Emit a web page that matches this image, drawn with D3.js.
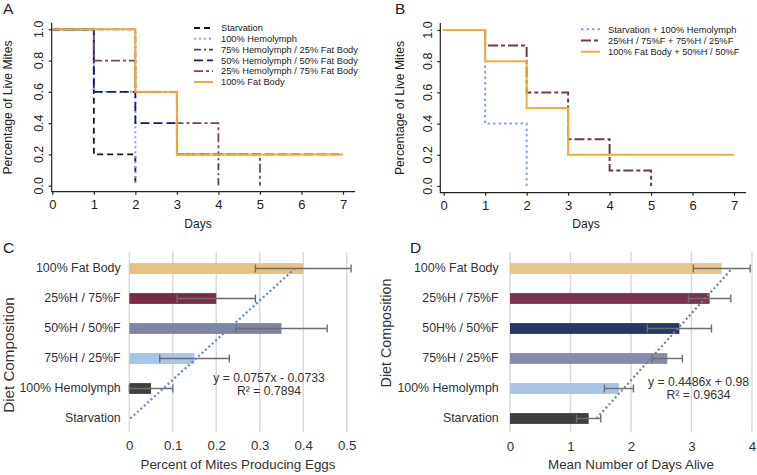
<!DOCTYPE html>
<html><head><meta charset="utf-8">
<script src="https://cdn.jsdelivr.net/npm/d3@7"></script>
<style>
html,body{margin:0;padding:0;background:#fff;}
svg{display:block;font-family:"Liberation Sans",Arial,sans-serif;}
</style></head>
<body>
<svg id="c" width="757" height="475"></svg>
<script>
// ---------- DATA ----------
// Panel A: Kaplan-Meier survival, value at each day starting day 0
const dayTicks = [0,1,2,3,4,5,6,7];
const yTicksSurv = [0,0.2,0.4,0.6,0.8,1.0];
const survStarvation = [1, 0.2, 0];
const survHemo100 = [1, 0.6, 0];
const survH75F25 = [1, 1, 0.6, 0.2, 0];
const survH50F50 = [1, 0.6, 0.4, 0.2, 0.2, 0.2, 0.2, 0.2];
const survH25F75 = [1, 0.8, 0.6, 0.4, 0.2, 0];
const survFat100 = [1, 1, 0.6, 0.2, 0.2, 0.2, 0.2, 0.2];
const legendA = ["Starvation","100% Hemolymph","75% Hemolymph / 25% Fat Body","50% Hemolymph / 50% Fat Body","25% Hemolymph / 75% Fat Body","100% Fat Body"];
// Panel B: combined curves
const survStarvHemo = [1, 0.4, 0];
const survH25H75 = [1, 0.9, 0.6, 0.3, 0.1, 0];
const survFatH50 = [1, 0.8, 0.5, 0.2, 0.2, 0.2, 0.2, 0.2];
const legendB = ["Starvation + 100% Hemolymph","25%H / 75%F + 75%H / 25%F","100% Fat Body + 50%H / 50%F"];
// Panel C
const dietC = ["100% Fat Body","25%H / 75%F","50%H / 50%F","75%H / 25%F","100% Hemolymph","Starvation"];
const eggsValue = [0.40, 0.20, 0.35, 0.15, 0.05, 0];
const eggsErr = [0.11, 0.09, 0.105, 0.08, 0.05, 0];
const eggsTicks = [0,0.1,0.2,0.3,0.4,0.5];
const eggsFit = [0.0757, -0.0733]; // slope, intercept (x = 1..6 from Starvation)
// Panel D
const dietD = ["100% Fat Body","25%H / 75%F","50H% / 50%F","75%H / 25%F","100% Hemolymph","Starvation"];
const aliveValue = [3.5, 3.3, 2.8, 2.6, 1.8, 1.3];
const aliveErr = [0.47, 0.35, 0.53, 0.25, 0.24, 0.2];
const aliveTicks = [0,1,2,3,4];
const aliveFit = [0.4486, 0.98];

// ---------- STYLES ----------
const stylesA = [
  {c:"#161616", d:"6,4", w:1.8},
  {c:"#7fa5e6", d:"2,3", w:2},
  {c:"#3e4c4c", d:"7,3,2,3", w:1.8},
  {c:"#16187c", d:"9,4", w:1.8},
  {c:"#7b4558", d:"9,3,3,3", w:1.8},
  {c:"#f3aa38", d:null, w:2}
];
const stylesB = [
  {c:"#7fa5e6", d:"2.5,3", w:2},
  {c:"#6f3a4f", d:"10,3,4,3", w:2},
  {c:"#f3aa38", d:null, w:2}
];
const colorsC = ["#e8c17f","#7a2c46","#7e85a7","#a8c4e8","#404040","#404040"];
const colorsD = ["#e9c587","#7b3351","#263865","#878cac","#a7c3e7","#3f3f3f"];

const svg = d3.select("#c");
svg.append("rect").attr("width",757).attr("height",475).attr("fill","#fff");

function panelLabel(t,x,y){
  svg.append("text").attr("x",x).attr("y",y).attr("font-size",15.5).attr("fill","#222").text(t);
}

// ---------- SURVIVAL PANELS ----------
function survPanel(o){
  const g = svg.append("g");
  const x = d3.scaleLinear().domain([0,7]).range(o.xr);
  const y = d3.scaleLinear().domain([0,1]).range(o.yr);
  // L frame
  g.append("path").attr("d",`M${o.ax},${o.top}V${o.bot}H${o.right}`).attr("fill","none").attr("stroke","#222").attr("stroke-width",1.2);
  // x ticks
  const xa = d3.axisBottom(x).tickValues(dayTicks).tickSize(3).tickPadding(5).tickFormat(d3.format("d"));
  const gx = g.append("g").attr("transform",`translate(0,${o.bot})`).call(xa);
  gx.select(".domain").remove();
  gx.selectAll("line").attr("stroke","#222").attr("stroke-width",1.2);
  gx.selectAll("text").attr("font-size",13).attr("fill","#222").attr("font-family","Liberation Sans, Arial");
  // y ticks
  const ya = d3.axisLeft(y).tickValues(yTicksSurv).tickSize(3).tickFormat(d3.format(".1f"));
  const gy = g.append("g").attr("transform",`translate(${o.ax},0)`).call(ya);
  gy.select(".domain").remove();
  gy.selectAll("line").attr("stroke","#222").attr("stroke-width",1.2);
  gy.selectAll("text").remove();
  yTicksSurv.forEach(v=>{
    g.append("text").attr("transform",`translate(${o.ax-13},${y(v)}) rotate(-90)`)
      .attr("text-anchor","middle").attr("dy","0.35em").attr("font-size",12.5).attr("fill","#222")
      .text(d3.format(".1f")(v));
  });
  // titles
  g.append("text").attr("transform",`translate(${o.ytx},${(o.yr[0]+o.yr[1])/2}) rotate(-90)`)
    .attr("text-anchor","middle").attr("font-size",12.2).attr("fill","#222").text("Percentage of  Live Mites");
  g.append("text").attr("x",o.xtx).attr("y",228).attr("text-anchor","middle").attr("font-size",12).attr("fill","#222").text("Days");
  // curves
  const line = d3.line().x(d=>x(d[0])).y(d=>y(d[1])).curve(d3.curveStepAfter);
  o.series.forEach((s,i)=>{
    const st = o.styles[i];
    g.append("path").datum(s.map((v,k)=>[k,v])).attr("d",line)
      .attr("fill","none").attr("stroke",st.c).attr("stroke-width",st.w)
      .attr("stroke-dasharray",st.d);
  });
  // legend
  o.legend.forEach((t,i)=>{
    const st = o.styles[i];
    const ly = o.ly0 + i*o.ldy;
    g.append("line").attr("x1",o.lx).attr("x2",o.lx+19).attr("y1",ly).attr("y2",ly)
      .attr("stroke",st.c).attr("stroke-width",st.w).attr("stroke-dasharray",st.d);
    g.append("text").attr("x",o.lx+27).attr("y",ly).attr("dy","0.35em").attr("font-size",9.3).attr("fill","#222").text(t);
  });
}

survPanel({xr:[52.3,343], yr:[185.7,29.3], ax:51.7, top:22.7, bot:191.7, right:355,
  ytx:12, xtx:198,
  series:[survStarvation,survHemo100,survH75F25,survH50F50,survH25F75,survFat100],
  styles:stylesA, legend:legendA, lx:194, ly0:28, ldy:10.8});
survPanel({xr:[443.7,734], yr:[186,30], ax:440.3, top:23, bot:192.7, right:746,
  ytx:404, xtx:586,
  series:[survStarvHemo,survH25H75,survFatH50],
  styles:stylesB, legend:legendB, lx:581, ly0:29.3, ldy:11.2});

panelLabel("A",3,14);
panelLabel("B",395,14);
panelLabel("C",3,253);
panelLabel("D",410,253);

// ---------- BAR PANELS ----------
function barPanel(o){
  const g = svg.append("g");
  const x = d3.scaleLinear().domain(o.dom).range(o.xr);
  const y = d3.scaleBand().domain(o.cats).range([253.5,433.5]).paddingInner(0.64).paddingOuter(0.32);
  // gridlines
  g.selectAll("line.grid").data(o.ticks).enter().append("line")
    .attr("x1",d=>x(d)).attr("x2",d=>x(d)).attr("y1",251.7).attr("y2",431.7)
    .attr("stroke","#d9d9d9").attr("stroke-width",1.5);
  // tick labels
  const xa = d3.axisBottom(x).tickValues(o.ticks).tickSize(0).tickPadding(0).tickFormat(o.fmt);
  const gx = g.append("g").attr("transform",`translate(0,${o.tickY})`).call(xa);
  gx.select(".domain").remove();
  gx.selectAll("text").attr("font-size",13.3).attr("fill","#333").attr("dy",0).attr("font-family","Liberation Sans, Arial");
  // category labels
  const ya = d3.axisLeft(y).tickSize(0).tickPadding(0);
  const gy = g.append("g").attr("transform",`translate(${o.catX},0)`).call(ya);
  gy.select(".domain").remove();
  gy.selectAll("text").attr("font-size",12.4).attr("fill","#333").attr("font-family","Liberation Sans, Arial");
  // bars
  g.selectAll("rect.bar").data(o.values).enter().append("rect")
    .attr("x",x(0)).attr("y",(d,i)=>y(o.cats[i])).attr("height",y.bandwidth())
    .attr("width",d=>x(d)-x(0)).attr("fill",(d,i)=>o.colors[i]);
  // error bars
  o.values.forEach((v,i)=>{
    const e = o.err[i]; if(!e) return;
    const cy = y(o.cats[i]) + y.bandwidth()/2;
    const x1 = x(Math.max(o.dom[0], v-e)), x2 = x(v+e);
    g.append("line").attr("x1",x1).attr("x2",x2).attr("y1",cy).attr("y2",cy).attr("stroke","#6e6e6e").attr("stroke-width",1.4);
    [x1,x2].forEach(xx=>g.append("line").attr("x1",xx).attr("x2",xx).attr("y1",cy-4).attr("y2",cy+4).attr("stroke","#6e6e6e").attr("stroke-width",1.4));
  });
  // trendline: category index n (Starvation=1 ... top=6)
  const n = o.cats.length;
  const pts = [1,n].map(k=>{
    const cat = o.cats[n-k];
    return [x(o.fit[0]*k + o.fit[1]), y(cat)+y.bandwidth()/2];
  });
  g.append("line").attr("x1",pts[0][0]).attr("y1",pts[0][1]).attr("x2",pts[1][0]).attr("y2",pts[1][1])
    .attr("stroke",o.trendColor).attr("stroke-width",2.2).attr("stroke-dasharray","2,2.6");
  // equation
  const sign = o.fit[1] < 0 ? " - " : " + ";
  g.append("text").attr("x",o.eqX).attr("y",o.eqY).attr("text-anchor","middle").attr("font-size",12.2).attr("fill","#333")
    .text(`y = ${o.fit[0]}x${sign}${Math.abs(o.fit[1])}`);
  g.append("text").attr("x",o.eqX).attr("y",o.eqY+13).attr("text-anchor","middle").attr("font-size",12.2).attr("fill","#333")
    .text(`R² = ${o.r2}`);
  // titles
  g.append("text").attr("x",(o.xr[0]+o.xr[1])/2).attr("y",469).attr("text-anchor","middle").attr("font-size",13.4).attr("fill","#333").text(o.xTitle);
  g.append("text").attr("transform",`translate(${o.yTitleX},${o.yTitleY}) rotate(-90)`).attr("text-anchor","middle")
    .attr("font-size",o.yTitleSize).attr("fill","#333").text("Diet Composition");
}

barPanel({dom:[0,0.5], xr:[129.3,346.7], cats:dietC, values:eggsValue, err:eggsErr, ticks:eggsTicks,
  fmt:d=>d===0?"0":d3.format(".1f")(d), colors:colorsC, catX:120.7, tickY:450,
  fit:eggsFit, r2:"0.7894", trendColor:"#5b8bd2", eqX:269, eqY:382,
  xTitle:"Percent of Mites Producing Eggs", yTitleX:13.5, yTitleY:355, yTitleSize:15.2});
barPanel({dom:[0,4], xr:[510,752], cats:dietD, values:aliveValue, err:aliveErr, ticks:aliveTicks,
  fmt:d3.format("d"), colors:colorsD, catX:498.7, tickY:450.7,
  fit:aliveFit, r2:"0.9634", trendColor:"#7f7f7f", eqX:698.5, eqY:386,
  xTitle:"Mean Number of Days Alive", yTitleX:391, yTitleY:333, yTitleSize:14.3});
</script>
</body></html>
